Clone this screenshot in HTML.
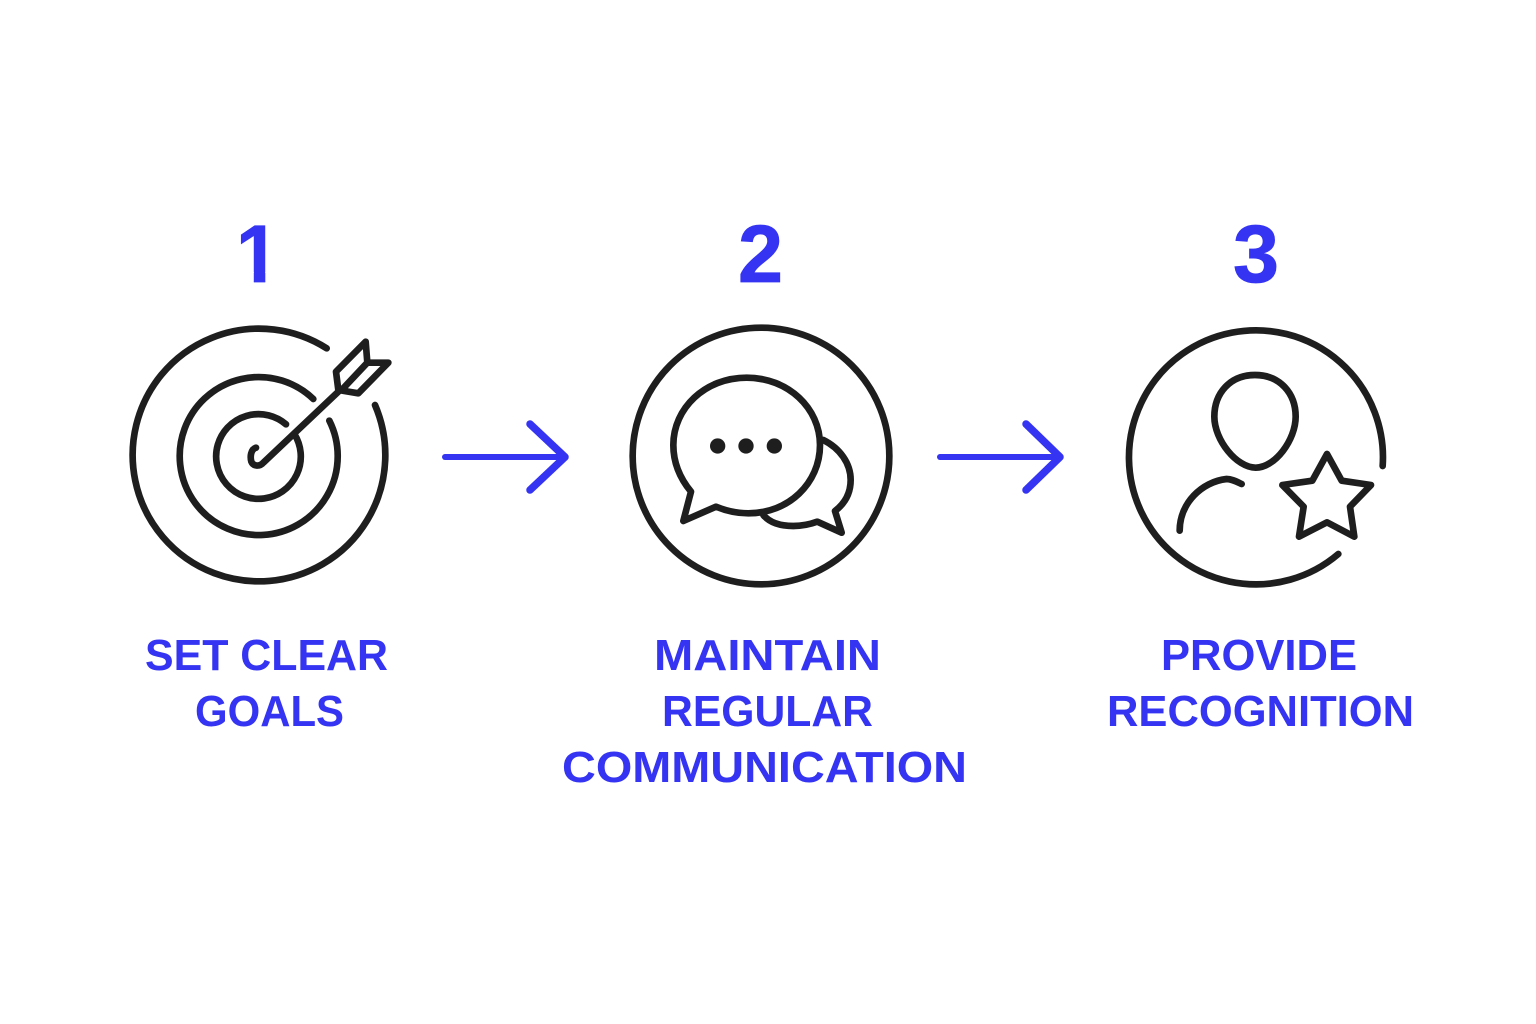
<!DOCTYPE html>
<html lang="en">
<head>
<meta charset="utf-8">
<title>Three steps</title>
<style>
html,body{margin:0;padding:0;background:#fff}
svg{display:block}
text{font-family:"Liberation Sans",sans-serif;font-weight:700;fill:#3434f2}
.d{stroke:#3434f2;stroke-width:.8}
.i{fill:none;stroke:#1e1e1e;stroke-width:20;stroke-linecap:round;stroke-linejoin:round}
.a{fill:none;stroke:#3434f2;stroke-width:6;stroke-linecap:round;stroke-linejoin:round}
.h{fill:none;stroke:#3434f2;stroke-width:7.5;stroke-linecap:round;stroke-linejoin:round}
</style>
</head>
<body>
<svg width="1536" height="1024" viewBox="0 0 1536 1024" xmlns="http://www.w3.org/2000/svg">
<defs>
<clipPath id="one"><path d="M225 210H295V272H265.300V283H253.800V272H225Z"/></clipPath>
</defs>
<rect width="1536" height="1024" fill="#fff"/>

<g clip-path="url(#one)"><text class="d" x="236" y="282" font-size="82" textLength="43.300" lengthAdjust="spacingAndGlyphs">1</text></g>
<text class="d" x="738" y="282" font-size="82" textLength="45" lengthAdjust="spacingAndGlyphs">2</text>
<text class="d" x="1233" y="282" font-size="82" textLength="46" lengthAdjust="spacingAndGlyphs">3</text>

<g transform="translate(120 310) scale(.33333)" class="i">
<path d="M620 115A379 379 0 1 0 765 285"/>
<path d="M580 267A237 237 0 1 0 628 332"/>
<path d="M498 343A127 127 0 1 0 523 372"/>
<path d="M408 413C392 418 390 440 394 455C400 470 420 470 430 458L655 245"/>
<path d="M648 185L737 95L742 158L805 158L715 250L655 240ZM742 158L665 240"/>
</g>

<g transform="translate(620 310) scale(.33333)" class="i">
<ellipse cx="423" cy="438" rx="385" ry="385"/>
<path d="M213 545L190 633L288 590C320 603 350 610 385 610C505 610 600 520 600 405C600 295 505 203 380 203C255 203 160 295 160 405C160 460 180 505 213 545Z"/>
<path d="M610 390C660 415 692 460 692 510C692 550 675 580 645 603L665 668L592 635C565 645 545 648 520 648C485 648 450 640 430 615"/>
<circle cx="293" cy="408" r="23" fill="#1e1e1e" stroke="none"/>
<circle cx="378" cy="408" r="23" fill="#1e1e1e" stroke="none"/>
<circle cx="463" cy="408" r="23" fill="#1e1e1e" stroke="none"/>
</g>

<g transform="translate(1115 310) scale(.33333)" class="i">
<path d="M803 468A381 381 0 1 0 670 732"/>
<path d="M420 195C345 195 298 250 298 320C298 390 365 473 422 473C480 473 542 390 542 320C542 250 495 195 420 195Z"/>
<path d="M194 662C194 580 260 515 335 507C350 507 365 515 380 522"/>
<path d="M636 432L680 512L768 525L705 590L718 680L636 637L552 680L566 590L502 525L592 512Z"/>
</g>

<path class="a" d="M445 457H564"/>
<path class="h" d="M530 424L565 457L530 490"/>
<path class="a" d="M940 457H1059"/>
<path class="h" d="M1026 424L1060 457L1026 490"/>

<text x="145" y="670" font-size="44" textLength="243" lengthAdjust="spacingAndGlyphs">SET CLEAR</text>
<text x="195" y="726" font-size="44" textLength="149" lengthAdjust="spacingAndGlyphs">GOALS</text>
<text x="654" y="670" font-size="44" textLength="227" lengthAdjust="spacingAndGlyphs">MAINTAIN</text>
<text x="662" y="726" font-size="44" textLength="211" lengthAdjust="spacingAndGlyphs">REGULAR</text>
<text x="562" y="782" font-size="44" textLength="405" lengthAdjust="spacingAndGlyphs">COMMUNICATION</text>
<text x="1161" y="670" font-size="44" textLength="196" lengthAdjust="spacingAndGlyphs">PROVIDE</text>
<text x="1107" y="726" font-size="44" textLength="307" lengthAdjust="spacingAndGlyphs">RECOGNITION</text>
</svg>
</body>
</html>
